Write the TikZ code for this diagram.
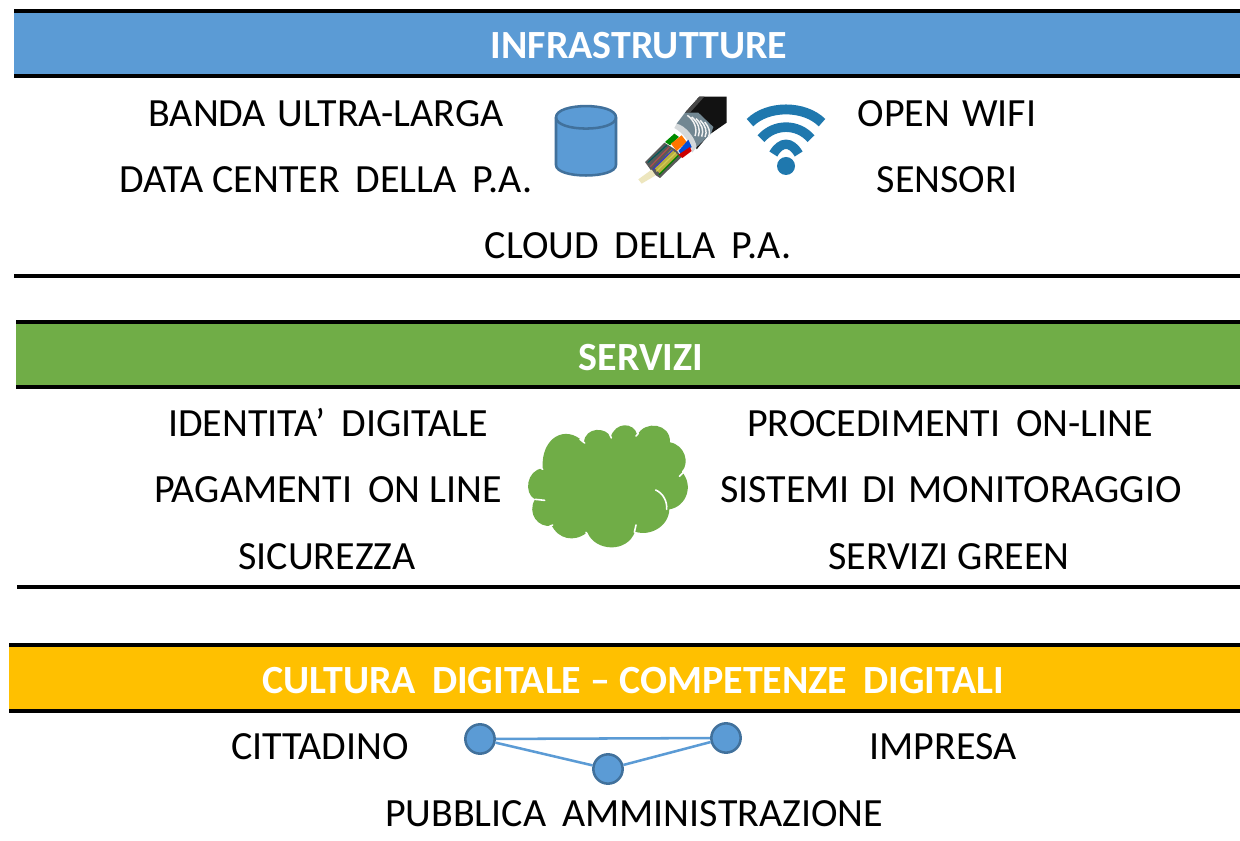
\documentclass[tikz,border=0pt]{standalone}
\usepackage{fontspec}
\setmainfont{Carlito}
\definecolor{bandblue}{HTML}{5B9BD5}
\definecolor{bandgreen}{HTML}{70AD47}
\definecolor{bandorange}{HTML}{FFC000}
\definecolor{edgeblue}{HTML}{41719C}
\definecolor{wifiblue}{HTML}{1F78AE}
\definecolor{corecream}{HTML}{EDE6BE}
\tikzset{
  lbl/.style={anchor=base,inner sep=0pt,text=black,font=\fontsize{30}{33}\selectfont},
  head/.style={anchor=base,inner sep=0pt,text=white,font=\fontsize{30}{33}\selectfont\bfseries},
  rulebar/.style={line width=3pt,black},
  netdot/.style={circle,draw=edgeblue,line width=1.9pt,fill=bandblue,minimum size=22pt,inner sep=0pt},
  netlink/.style={bandblue,line width=1.9pt},
  gap/.style={white,line width=1.2pt,line cap=round},
  strand/.style={line width=0.9pt},
}
\newcommand{\wsp}{\hspace{0.4em}}
\newcommand{\ssp}{\hspace{0.3em}}
\begin{document}
\begin{tikzpicture}[x=0.75pt,y=-0.75pt]
\useasboundingbox (0,0) rectangle (1240,841);
\fill[white] (0,0) rectangle (1240,841);
% bands
\fill[bandblue] (14,11) rectangle (1240,76);
\draw[rulebar] (14,11) -- (1240,11);
\draw[rulebar] (14,76) -- (1240,76);
\draw[rulebar] (14,276) -- (1240,276);
\fill[bandgreen] (16,322) rectangle (1240,387);
\draw[rulebar] (16,322) -- (1240,322);
\draw[rulebar] (16,387) -- (1240,387);
\draw[rulebar] (17,587) -- (1240,587);
\fill[bandorange] (9,645) rectangle (1240,711);
\draw[rulebar] (9,645) -- (1240,645);
\draw[rulebar] (9,711) -- (1240,711);
% headings
\node[head] (h1) at (639,59) {INFRASTRUTTURE};
\node[head] (h2) at (641,371) {SERVIZI};
\node[head] (h3) at (633,693) {CULTURA\wsp DIGITALE – COMPETENZE\wsp DIGITALI};
% infrastructure text
\node[lbl] (t1) at (326,127) {BANDA\ssp ULTRA-LARGA};
\node[lbl] (t2) at (326,193) {DATA CENTER\wsp DELLA\wsp P.A.};
\node[lbl] (t3) at (638,259) {CLOUD\wsp DELLA\wsp P.A.};
\node[lbl] (t4) at (947,127) {OPEN\ssp WIFI};
\node[lbl] (t5) at (947,193) {SENSORI};
% services text
\node[lbl] (s1) at (328,437) {IDENTITA’\wsp DIGITALE};
\node[lbl] (s2) at (328,503) {PAGAMENTI\wsp ON LINE};
\node[lbl] (s3) at (327,570) {SICUREZZA};
\node[lbl] (s4) at (950,437) {PROCEDIMENTI\wsp ON-LINE};
\node[lbl] (s5) at (951,503) {SISTEMI\ssp DI\ssp MONITORAGGIO};
\node[lbl] (s6) at (949,570) {SERVIZI GREEN};
% culture text
\node[lbl] (c1) at (320,759) {CITTADINO};
\node[lbl] (c2) at (943,759) {IMPRESA};
\node[lbl] (c3) at (634,826) {PUBBLICA\wsp AMMINISTRAZIONE};
% network
\node[netdot] (n1) at (480,739) {};
\node[netdot] (n2) at (608,769) {};
\node[netdot] (n3) at (726,738) {};
\draw[netlink] (n1) -- (n3);
\draw[netlink] (n1) -- (n2);
\draw[netlink] (n2) -- (n3);
% cylinder and wifi
\begin{scope}[shift={(530,85)},x=0.25pt,y=-0.25pt]
  \draw[draw=edgeblue,fill=bandblue,line width=1.9pt]
    (78,97) .. controls (78,52) and (258,52) .. (258,97)
    -- (258,240) .. controls (258,282) and (78,282) .. (78,240) -- cycle;
  \draw[draw=edgeblue,line width=1.9pt] (78,97) .. controls (78,142) and (258,142) .. (258,97);
  \fill[wifiblue] (768,243) circle (27);
  \draw[wifiblue,line width=7.4pt] (768+108,243-130) .. controls (768+55,243-183) and (768-55,243-183) .. (768-108,243-130);
  \draw[wifiblue,line width=7.2pt] (768+75,243-82) .. controls (768+35,243-128) and (768-35,243-128) .. (768-75,243-82);
  \draw[wifiblue,line width=7pt] (768+38,243-36) .. controls (768+15,243-75) and (768-15,243-75) .. (768-38,243-36);
\end{scope}
% fibre cable
\begin{scope}[shift={(635,92)},x=0.25pt,y=-0.25pt]
  \fill[black!93] (193,14) -- (275,14) -- (275,92) -- (220,130) -- (185,172) -- (150,62) -- cycle;
  \fill[black!72] (193,14) -- (208,14) -- (165,62) -- (150,62) -- cycle;
  \fill[gray!70!cyan!80!black] (125,95) -- (150,62) -- (190,62) -- (235,105) -- (228,125) -- (185,165) -- (165,140) -- cycle;
  \foreach \k in {0,1,2,3,4}{
    \draw[white!90!gray,line width=1.1pt] (157+\k*13,70+\k*5) .. controls (178+\k*11,85+\k*5) and (188+\k*10,110+\k*3) .. (180+\k*10,132+\k*1);
  }
  \fill[cyan!8!gray!35] (125,95) .. controls (150,100) and (180,135) .. (185,165) -- (172,182) .. controls (168,150) and (140,120) .. (118,108) -- cycle;
  % strands
  \fill[black!65] (88,152) -- (125,175) -- (140,195) -- (75,258) -- (55,245) -- (30,210) -- cycle;
  \fill[olive!65!white] (110,172) -- (130,190) -- (75,245) -- (58,228) -- cycle;
  \draw[strand,teal!70!black] (95,160) -- (38,212);
  \draw[strand,red!40!gray] (103,165) -- (46,224);
  \draw[strand,blue!60!gray] (112,175) -- (54,232);
  \draw[strand,yellow!60!gray] (122,182) -- (64,238);
  \draw[strand,green!50!black] (130,190) -- (72,248);
  % tubes
  \fill[green!55!black] (90,150) -- (118,125) -- (132,135) -- (105,160) -- cycle;
  \fill[orange!92!red] (108,155) -- (140,130) -- (155,150) -- (125,177) -- cycle;
  \fill[blue!65!cyan!85!black] (130,177) -- (160,143) -- (170,165) -- (140,188) -- cycle;
  \fill[red!80!black] (130,188) -- (165,165) -- (170,177) -- (142,198) -- cycle;
  % core
  \fill[corecream] (10,262) -- (50,233) -- (62,250) -- (20,275) -- cycle;
\end{scope}
% cloud
\begin{scope}[shift={(510,410)},x=0.25pt,y=-0.25pt]
  \fill[bandgreen] (98,175)
    .. controls (92,85) and (165,40) .. (222,97)
    .. controls (225,50) and (290,50) .. (302,82)
    .. controls (315,35) and (372,35) .. (382,75)
    .. controls (405,30) and (482,40) .. (480,97)
    .. controls (525,105) and (540,160) .. (515,185)
    .. controls (552,225) and (530,290) .. (478,298)
    .. controls (476,350) and (420,380) .. (375,365)
    .. controls (352,430) and (255,425) .. (232,367)
    .. controls (190,400) and (145,385) .. (125,347)
    .. controls (85,355) and (50,310) .. (75,268)
    .. controls (40,250) and (50,180) .. (98,175) -- cycle;
  \draw[gap] (437,240) .. controls (460,250) and (472,275) .. (470,298);
  \draw[gap] (75,268) -- (104,271);
  \draw[gap] (378,345) -- (373,367);
  \draw[gap] (228,367) -- (236,385);
  \draw[gap] (128,345) -- (117,350);
  \draw[gap] (525,182) -- (508,199);
  \draw[gap] (385,70) -- (378,78);
  \draw[gap] (298,70) -- (304,84);
  \draw[gap] (210,88) -- (224,99);
  \draw[gap] (98,178) -- (90,172);
\end{scope}
\end{tikzpicture}
\end{document}
